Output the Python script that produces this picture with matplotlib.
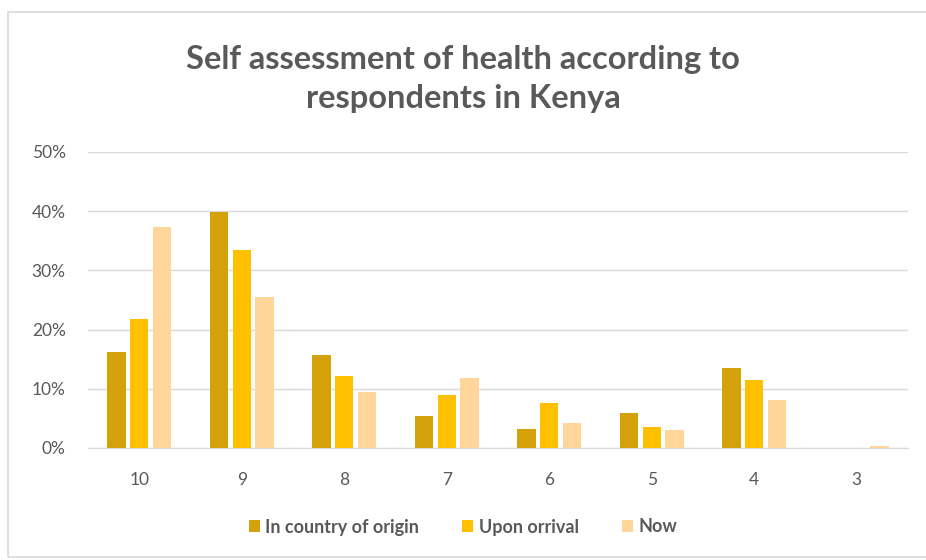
import matplotlib.pyplot as plt
from matplotlib.patches import Rectangle
from matplotlib.ticker import PercentFormatter
import numpy as np

plt.rcParams['font.family'] = ['Lato', 'DejaVu Sans']

scores = ['10', '9', '8', '7', '6', '5', '4', '3']
origin = [16.2, 39.9, 15.7, 5.4, 3.2, 5.9, 13.5, 0.0]
arrival = [21.8, 33.4, 12.2, 9.0, 7.6, 3.6, 11.5, 0.0]
now = [37.3, 25.5, 9.5, 11.8, 4.2, 3.0, 8.1, 0.3]
series = ['In country of origin', 'Upon orrival', 'Now']
colors = ['#D4A10A', '#FFC000', '#FFD59A']
grey = '#595959'

fig = plt.figure(figsize=(9.26, 5.6), dpi=100)
# chart frame
fig.patches.append(Rectangle((8 / 926, 0.005), 1.0, 1 - 12 / 560 - 0.005,
                             transform=fig.transFigure, fill=False,
                             edgecolor='#D9D9D9', linewidth=1.2))

ax = fig.add_axes([88 / 926, 1 - 448 / 560, 820 / 926, 296 / 560])
x = np.arange(len(scores))
w = 0.18
step = 0.22
for i, (vals, c, lab) in enumerate(zip([origin, arrival, now], colors, series)):
    ax.bar(x + (i - 1) * step, np.array(vals) / 100, width=w, color=c,
           label=lab, zorder=3)

ax.set_xlim(-0.5, len(scores) - 0.5)
ax.set_ylim(0, 0.5)
ax.set_yticks(np.arange(0, 0.51, 0.1))
ax.yaxis.set_major_formatter(PercentFormatter(1.0, decimals=0))
ax.set_xticks(x)
ax.set_xticklabels(scores)
ax.grid(axis='y', color='#D9D9D9', linewidth=1, zorder=0)
for s in ['top', 'right', 'left']:
    ax.spines[s].set_visible(False)
ax.spines['bottom'].set_color('#D9D9D9')
ax.tick_params(axis='both', length=0, colors=grey, labelsize=12.5)
ax.tick_params(axis='x', pad=17)
ax.tick_params(axis='y', pad=16)

fig.text(0.5, 1 - 79 / 560, 'Self assessment of health according to\nrespondents in Kenya',
         ha='center', va='center', fontsize=23.5, color=grey, fontweight='bold',
         linespacing=1.4)

leg = fig.legend(loc='center', bbox_to_anchor=(0.5, 1 - 527 / 560), ncol=3,
                 frameon=False, handlelength=0.6, handleheight=0.6,
                 handletextpad=0.3, columnspacing=2.4,
                 prop={'size': 13, 'weight': 'bold'})
for t in leg.get_texts():
    t.set_color(grey)

fig.savefig('out.png', dpi=100, facecolor='white')
